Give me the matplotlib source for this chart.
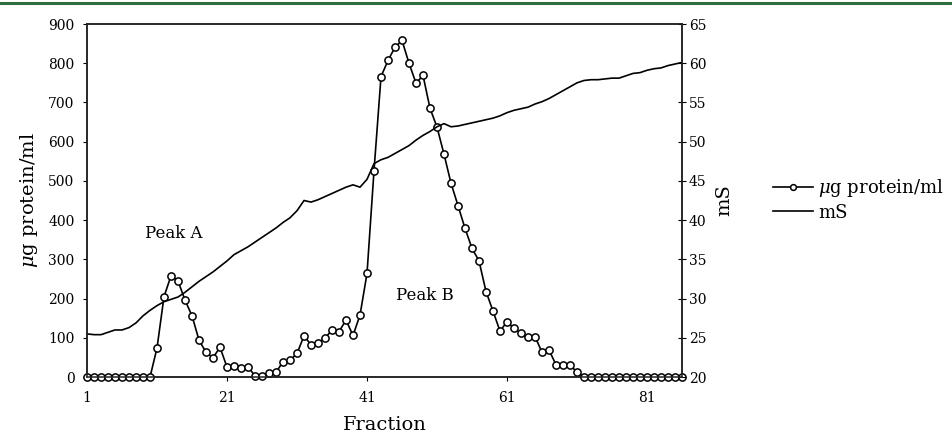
import numpy as np
import matplotlib
matplotlib.use("Agg")
import matplotlib.pyplot as plt
from matplotlib.lines import Line2D

# -------------------------
# DATA
# -------------------------
fractions = list(range(1, 87))

protein = [0, 0, 0, 0, 0, 0, 0, 0, 0, 0,
           74, 205, 258, 245, 196, 156, 94, 63, 49, 76,
           25, 28, 22, 26, 3, 3, 11, 12, 39, 43,
           60, 105, 82, 88, 99, 120, 116, 145, 106, 158,
           264, 526, 766, 807, 841, 858, 800, 749, 769, 685,
           637, 568, 494, 437, 379, 328, 296, 218, 168, 117,
           141, 124, 111, 101, 103, 63, 69, 31, 31, 31,
           12, 0, 0, 0, 0, 0, 0, 0, 0, 0,
           0, 0, 0, 0, 0, 0]

ms = [25.5, 25.4, 25.4, 25.7, 26.0, 26.0, 26.3, 26.9, 27.8, 28.5,
      29.1, 29.6, 29.9, 30.2, 30.8, 31.5, 32.2, 32.8, 33.4, 34.1,
      34.8, 35.6, 36.1, 36.6, 37.2, 37.8, 38.4, 39.0, 39.7, 40.3,
      41.2, 42.5, 42.3, 42.6, 43.0, 43.4, 43.8, 44.2, 44.5, 44.2,
      45.2, 47.2, 47.7, 48.0, 48.5, 49.0, 49.5, 50.2, 50.8, 51.3,
      51.9, 52.3, 51.9, 52.0, 52.2, 52.4, 52.6, 52.8, 53.0, 53.3,
      53.7, 54.0, 54.2, 54.4, 54.8, 55.1, 55.5, 56.0, 56.5, 57.0,
      57.5, 57.8, 57.9, 57.9, 58.0, 58.1, 58.1, 58.4, 58.7, 58.8,
      59.1, 59.3, 59.4, 59.7, 59.9, 60.1]

x_ticks = [1, 21, 41, 61, 81]
left_ticks = list(range(0, 901, 100))
right_ticks = list(range(20, 66, 5))

# -------------------------
# PLOT
# -------------------------
font = "DejaVu Serif"
plt.rcParams["font.family"] = font
plt.rcParams["mathtext.fontset"] = "dejavuserif"

fig = plt.figure(figsize=(9.52, 4.42), dpi=100)
fig.add_artist(Line2D([0, 1], [0.9925, 0.9925], color="#2f6f3f", lw=2.2))

ax = fig.add_axes([0.0914, 0.147, 0.625, 0.7987])
ax2 = ax.twinx()

ax.plot(fractions, protein, color="black", lw=1.2, marker="o", ms=5.2,
        mfc="white", mec="black", mew=1.1, clip_on=False, zorder=3,
        label="$\\mu$g protein/ml")
ax2.plot(fractions, ms, color="black", lw=1.2, label="mS")

ax.set_xlim(1, 86)
ax.set_ylim(0, 900)
ax2.set_ylim(20, 65)
ax.set_xticks(x_ticks)
ax.set_yticks(left_ticks)
ax2.set_yticks(right_ticks)

for a in (ax, ax2):
    for s in a.spines.values():
        s.set_linewidth(1.1)
        s.set_color("#222222")

ax.tick_params(axis="x", direction="out", length=3, pad=7, labelsize=10)
ax.tick_params(axis="y", direction="out", length=3, pad=6, labelsize=10)
ax2.tick_params(axis="y", direction="inout", length=6, pad=2, labelsize=10)

ax.set_xlabel("Fraction", fontsize=14, labelpad=8)
ax.set_ylabel("$\\mu$g protein/ml", fontsize=14, labelpad=6)
ax2.set_ylabel("mS", fontsize=14, labelpad=6)

ax.text(13.4, 366, "Peak A", fontsize=12, ha="center", va="center")
ax.text(49.3, 209, "Peak B", fontsize=12, ha="center", va="center")

h1, l1 = ax.get_legend_handles_labels()
h2, l2 = ax2.get_legend_handles_labels()
fig.legend(h1 + h2, l1 + l2, loc="center left", bbox_to_anchor=(0.812, 0.549),
           frameon=False, prop={"size": 13}, markerscale=0.8,
           handlelength=2.2, handletextpad=0.28, labelspacing=0.25,
           borderpad=0, borderaxespad=0)

fig.savefig("out.png", dpi=100)
